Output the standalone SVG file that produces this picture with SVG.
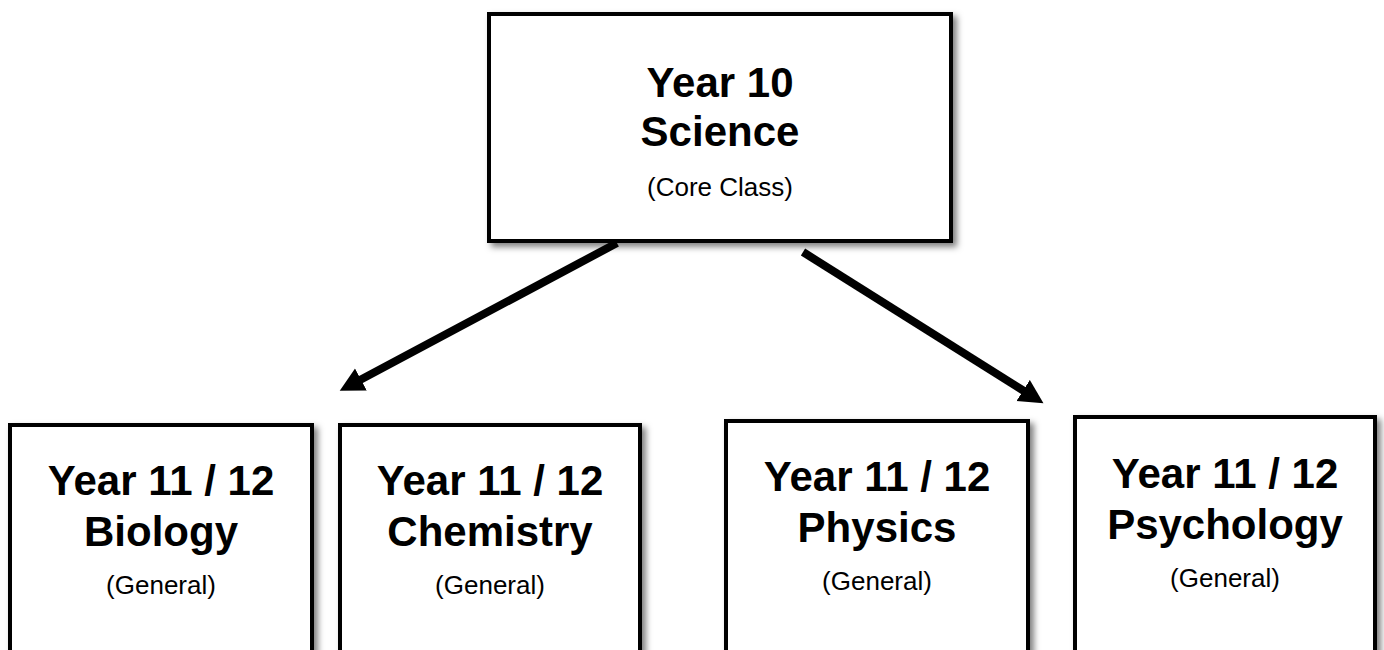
<svg xmlns="http://www.w3.org/2000/svg" width="1384" height="650" viewBox="0 0 1384 650">
<style>
.box{fill:#fff;stroke:#000;stroke-width:4;filter:url(#sh)}
.big{font-family:"Liberation Sans",Arial,sans-serif;font-weight:bold;font-size:42px;fill:#000;text-anchor:middle}
.small{font-family:"Liberation Sans",Arial,sans-serif;font-size:26px;fill:#000;text-anchor:middle}
.conn{stroke:#000;stroke-width:8;fill:none;marker-end:url(#ah)}
</style>
<defs>
<filter id="sh" x="-10%" y="-10%" width="130%" height="130%">
<feDropShadow dx="4" dy="4" stdDeviation="3" flood-color="#000" flood-opacity="0.5"/>
</filter>
<marker id="ah" markerUnits="userSpaceOnUse" markerWidth="26" markerHeight="26" refX="1" refY="12.5" orient="auto">
<path d="M0,0 L24,12.5 L0,25 z" fill="#000"/>
</marker>
</defs>
<g id="connectors">
<line class="conn" x1="617" y1="243" x2="360" y2="380"/>
<line class="conn" x1="803" y1="252" x2="1024" y2="391"/>
</g>
<g id="science">
<rect class="box" x="489" y="14" width="462" height="227"/>
<text class="big" x="720" y="97">Year 10</text>
<text class="big" x="720" y="146">Science</text>
<text class="small" x="720" y="196">(Core Class)</text>
</g>
<g id="biology">
<rect class="box" x="10" y="425" width="302" height="240"/>
<text class="big" x="161" y="495">Year 11 / 12</text>
<text class="big" x="161" y="546">Biology</text>
<text class="small" x="161" y="594">(General)</text>
</g>
<g id="chemistry">
<rect class="box" x="340" y="425" width="300" height="240"/>
<text class="big" x="490" y="495">Year 11 / 12</text>
<text class="big" x="490" y="546">Chemistry</text>
<text class="small" x="490" y="594">(General)</text>
</g>
<g id="physics">
<rect class="box" x="726" y="421" width="302" height="240"/>
<text class="big" x="877" y="491">Year 11 / 12</text>
<text class="big" x="877" y="542">Physics</text>
<text class="small" x="877" y="590">(General)</text>
</g>
<g id="psychology">
<rect class="box" x="1075" y="417" width="300" height="240"/>
<text class="big" x="1225" y="488">Year 11 / 12</text>
<text class="big" x="1225" y="539">Psychology</text>
<text class="small" x="1225" y="587">(General)</text>
</g>
</svg>
